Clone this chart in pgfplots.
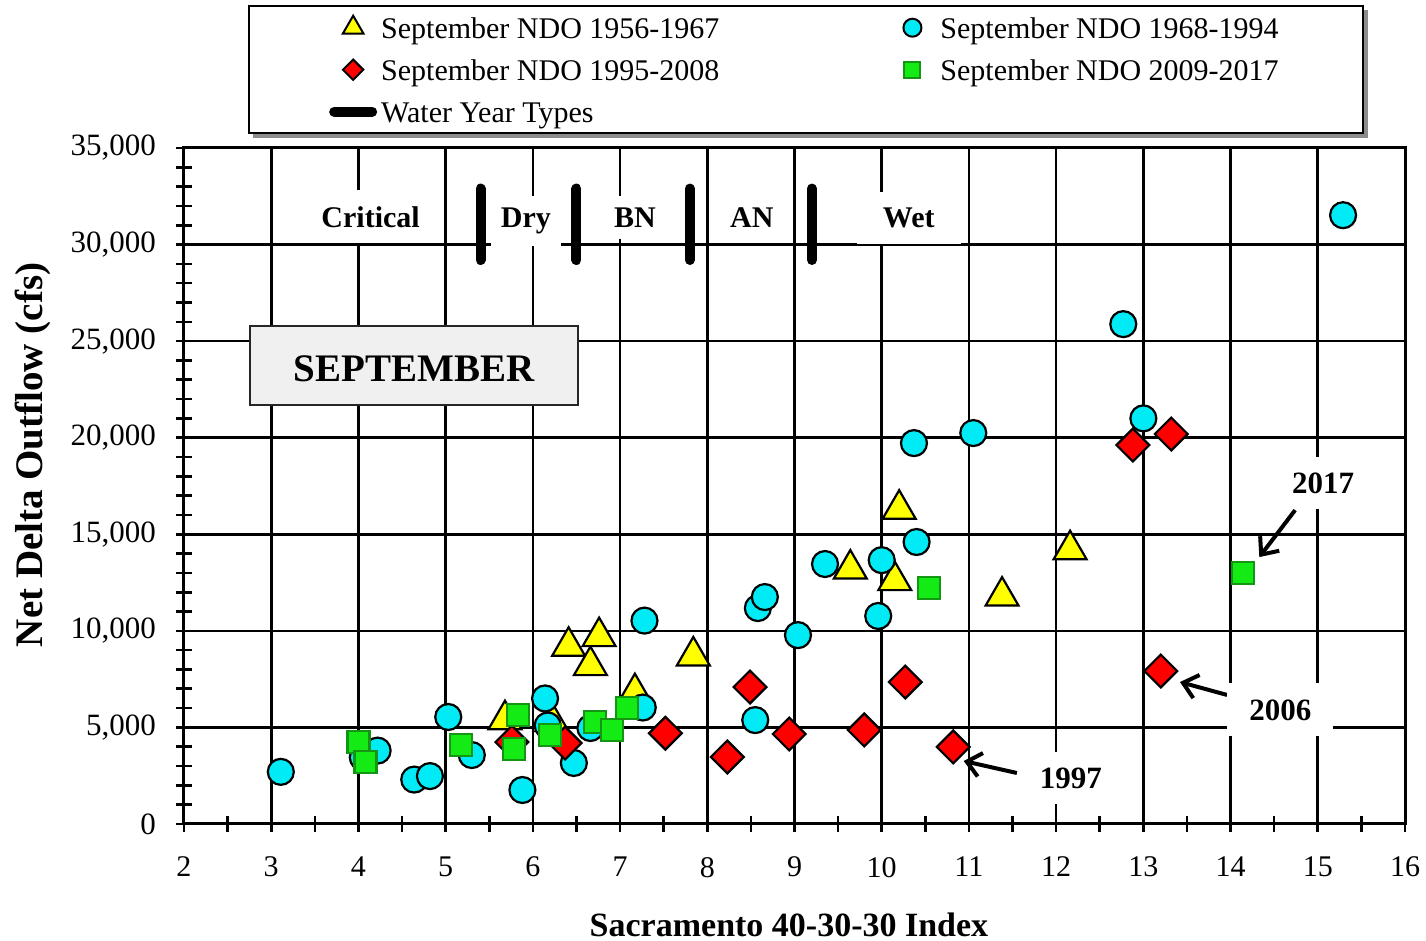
\documentclass[border=0pt]{standalone}
\usepackage{fontspec}
\setmainfont{Liberation Serif}
\usepackage{pgfplots}
\usepackage{pgfplotstable}
\pgfplotsset{compat=1.18}
\usetikzlibrary{arrows.meta}

\definecolor{ndoyellow}{RGB}{255,255,0}
\definecolor{ndocyan}{RGB}{0,235,245}
\definecolor{ndored}{RGB}{255,0,0}
\definecolor{ndogreen}{RGB}{20,235,20}
\definecolor{ndogreenedge}{RGB}{20,150,20}

\pgfplotsset{
  mark legend/.style={legend image code/.code={%
    \path[draw=none,fill=none] (0pt,-1pt) rectangle (24pt,1pt);
    \draw[##1] plot coordinates {(12pt,0pt)};}},
  bar legend/.style={legend image code/.code={%
    \draw[##1] (2.5pt,0pt) -- (21.5pt,0pt);}},
}

% Sacramento 40-30-30 index vs September net delta outflow (cfs)
\pgfplotstableread{
x y
5.68 5400
6.22 5300
6.41 9200
6.66 8200
6.76 9700
7.17 6800
7.84 8700
9.64 13200
10.15 12600
10.20 16300
11.38 11800
12.16 14200
}\ndoA

\pgfplotstableread{
x y
3.11 2700
4.05 3450
4.22 3800
4.64 2300
4.82 2480
5.03 5540
5.30 3570
5.88 1760
6.14 6500
6.17 5100
6.47 3160
6.66 4970
7.26 6030
7.28 10530
8.55 5380
8.58 11180
8.66 11750
9.04 9780
9.35 13460
9.96 10770
10.00 13660
10.40 14600
10.37 19720
11.05 20240
12.77 25880
13.00 21000
15.29 31520
}\ndoB

\pgfplotstableread{
x y
5.76 4240
6.37 4190
7.52 4700
8.23 3470
8.49 7090
8.94 4660
9.80 4870
10.27 7350
10.82 3990
12.88 19620
13.32 20190
13.20 7920
}\ndoC

\pgfplotstableread{
x y
4.00 4250
4.08 3200
5.18 4090
5.78 3880
5.83 5640
6.20 4600
6.71 5280
6.91 4870
7.08 6000
10.54 12210
14.14 12990
}\ndoD

\begin{document}
\begin{tikzpicture}
% shadow behind the legend box
\fill[black!45] (34.5pt,343pt) rectangle (592pt,407pt);
\begin{axis}[
  at={(0pt,0pt)}, anchor=south west,
  scale only axis, width=610.5pt, height=338pt,
  xmin=2, xmax=16, ymin=0, ymax=35000,
  xtick={2,...,16}, minor x tick num=1,
  ytick={0,5000,...,35000}, minor y tick num=4,
  scaled y ticks=false,
  /pgf/number format/assume math mode=true,
  ticklabel style={font=\fontsize{15}{18}\selectfont},
  yticklabel style={/pgf/number format/1000 sep={,}, xshift=-6.5pt,
    font=\fontsize{15.5}{18}\selectfont},
  xticklabel style={yshift=-9pt},
  xtick pos=bottom, ytick pos=left,
  tick align=center,
  major tick length=8pt, minor tick length=8pt,
  tick style={black, line width=1.3pt},
  grid=major,
  major grid style={black, line width=1.3pt},
  axis line style={black, line width=1.5pt},
  xlabel={Sacramento 40-30-30 Index},
  ylabel={Net Delta Outflow (cfs)},
  xlabel style={at={(axis description cs:0.4955,-0.1494)}, anchor=center,
    font=\bfseries\fontsize{17}{20}\selectfont},
  ylabel style={at={(axis description cs:-0.1235,0.546)}, anchor=center,
    font=\bfseries\fontsize{19.5}{22}\selectfont},
  legend columns=2,
  legend style={at={(axis description cs:0.0524,1.2115)}, anchor=north west,
    draw=black, line width=1.2pt, fill=white,
    font=\fontsize{15}{18}\selectfont,
    inner xsep=40pt, inner ysep=3pt,
    cells={anchor=west},
    nodes={inner xsep=2pt, inner ysep=0pt, text height=13pt, text depth=2.5pt},
    /tikz/column 2/.style={column sep=82.5pt},
    row sep=5.5pt},
]

% legend entries
\addlegendimage{only marks, mark=triangle*, mark size=6pt,
  mark options={fill=ndoyellow, draw=black, line width=1pt}, mark legend}
\addlegendentry{September NDO 1956-1967}
\addlegendimage{only marks, mark=*, mark size=4.5pt,
  mark options={fill=ndocyan, draw=black, line width=1pt}, mark legend}
\addlegendentry{September NDO 1968-1994}
\addlegendimage{only marks, mark=square*, mark size=3.6pt,
  mark options={fill=ndored, draw=black, line width=1pt, rotate=45}, mark legend}
\addlegendentry{September NDO 1995-2008}
\addlegendimage{only marks, mark=square*, mark size=4pt,
  mark options={fill=ndogreen, draw=ndogreenedge, line width=1pt}, mark legend}
\addlegendentry{September NDO 2009-2017}
\addlegendimage{black, line width=5pt, line cap=round, bar legend}
\addlegendentry{Water Year Types}

% water year type boundaries
\addplot[black, line width=5pt, line cap=round, forget plot] coordinates {(5.4,29200) (5.4,32900)};
\addplot[black, line width=5pt, line cap=round, forget plot] coordinates {(6.5,29200) (6.5,32900)};
\addplot[black, line width=5pt, line cap=round, forget plot] coordinates {(7.8,29200) (7.8,32900)};
\addplot[black, line width=5pt, line cap=round, forget plot] coordinates {(9.2,29200) (9.2,32900)};

% data
\addplot[only marks, mark=triangle*, mark size=9.5pt, forget plot,
  mark options={fill=ndoyellow, draw=black, line width=1.1pt}] table {\ndoA};
\addplot[only marks, mark=*, mark size=6.5pt, forget plot,
  mark options={fill=ndocyan, draw=black, line width=1.1pt}] table {\ndoB};
\addplot[only marks, mark=square*, mark size=5.8pt, forget plot,
  mark options={fill=ndored, draw=black, line width=1.1pt, rotate=45}] table {\ndoC};
\addplot[only marks, mark=square*, mark size=5.5pt, forget plot,
  mark options={fill=ndogreen, draw=ndogreenedge, line width=1.1pt}] table {\ndoD};

% water year type labels
\node[fill=white, inner xsep=10pt, inner ysep=8pt, anchor=base,
  font=\bfseries\fontsize{15}{18}\selectfont] at (axis cs:4.14,30900) {Critical};
\node[fill=white, inner xsep=5pt, inner ysep=6pt, anchor=base,
  font=\bfseries\fontsize{15}{18}\selectfont] at (axis cs:5.92,30900) {Dry};
\node[fill=white, inner xsep=5pt, inner ysep=6pt, anchor=base,
  font=\bfseries\fontsize{15}{18}\selectfont] at (axis cs:7.17,30900) {BN};
\node[fill=white, inner xsep=5pt, inner ysep=6pt, anchor=base,
  font=\bfseries\fontsize{15}{18}\selectfont] at (axis cs:8.51,30900) {AN};
\node[fill=white, inner xsep=13pt, inner ysep=8pt, anchor=base,
  font=\bfseries\fontsize{15}{18}\selectfont] at (axis cs:10.31,30900) {Wet};

% month box
\draw[fill=gray!12, draw=black!85, line width=1.2pt]
  (axis cs:2.757,21690) rectangle (axis cs:6.518,25780);
\node[anchor=base, font=\bfseries\fontsize{19.5}{22}\selectfont]
  at (axis cs:4.64,22930) {SEPTEMBER};

% year callouts
\draw[line width=2pt, -{Straight Barb[length=7pt,width=12pt]}]
  (axis cs:11.55,2640) -- (axis cs:10.94,3260);
\draw[line width=2pt, -{Straight Barb[length=7pt,width=12pt]}]
  (axis cs:13.96,6680) -- (axis cs:13.42,7350);
\draw[line width=2pt, -{Straight Barb[length=7pt,width=12pt]}]
  (axis cs:14.74,16250) -- (axis cs:14.33,13820);
\node[fill=white, inner xsep=11pt, inner ysep=8pt, anchor=base,
  font=\bfseries\fontsize{15.5}{18}\selectfont] at (axis cs:12.17,1860) {1997};
\node[fill=white, inner xsep=11pt, inner ysep=8pt, anchor=base,
  font=\bfseries\fontsize{15.5}{18}\selectfont] at (axis cs:14.57,5380) {2006};
\node[fill=white, inner xsep=11pt, inner ysep=8pt, anchor=base,
  font=\bfseries\fontsize{15.5}{18}\selectfont] at (axis cs:15.06,17130) {2017};
\end{axis}
\pgfresetboundingbox
\path (-92pt,-58.5pt) rectangle (621pt,412pt);
\end{tikzpicture}
\end{document}
